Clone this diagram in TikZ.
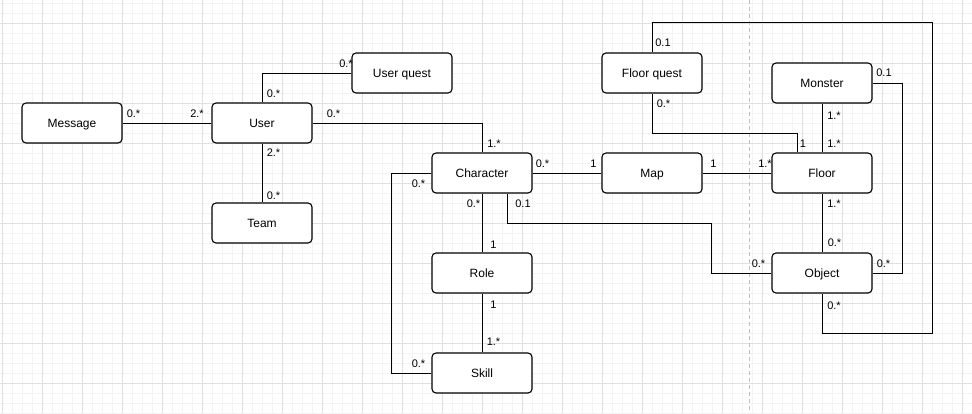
\documentclass[tikz,border=0pt]{standalone}
\usepackage{fontspec}
\setmainfont{Liberation Sans}
\usepackage{xcolor}
\definecolor{minorgrid}{HTML}{F3F3F3}
\definecolor{majorgrid}{HTML}{E0E0E0}
\definecolor{pagebreak}{HTML}{C0C0C0}

\begin{document}
\begin{tikzpicture}
	[   x=1pt, y=-1pt,
	    cbox/.style={draw=black,fill=white,line width=1.1pt,rounded corners=4pt,minimum width=100pt,minimum height=40pt,inner sep=0pt,font=\fontsize{12}{14}\selectfont,text height=8.6pt,text depth=0pt},
	    mult/.style={inner sep=0pt,font=\fontsize{11}{13}\selectfont},
	]
	\tikzset{assoc/.style={draw,line width=1pt}}
	\useasboundingbox (0,0) rectangle (972,413);
	\fill[white] (0,0) rectangle (972,413);
	
	% grid
	\foreach \gx in {2.5,12.5,...,972}
		\draw[minorgrid,line width=0.8pt] (\gx,0) -- (\gx,413);
	\foreach \gy in {3,13,...,413}
		\draw[minorgrid,line width=0.8pt] (0,\gy) -- (972,\gy);
	\foreach \gx in {2.5,42.5,...,972}
		\draw[majorgrid,line width=0.9pt] (\gx,0) -- (\gx,413);
	\foreach \gy in {23,63,...,413}
		\draw[majorgrid,line width=0.9pt] (0,\gy) -- (972,\gy);
	\draw[pagebreak,line width=0.8pt,dash pattern=on 4pt off 3pt] (749.5,0) -- (749.5,413);
	
	\foreach \n/\x/\y/\t in {msg/72/123/Message, user/262/123/User, uquest/402/73/User quest, team/262/223/Team, char/482/173/Character, role/482/273/Role, skill/482/373/Skill, map/652/173/Map, fquest/652/73/Floor quest, monster/822/83/Monster, floor/822/173/Floor, object/822/273/Object}
	{
		\node[cbox] (\n) at (\x,\y) {\t};
	}
	
	\path[assoc] (msg) -- (user);
	\path[assoc] (user.north) |- (uquest.west);
	\path[assoc] (user.east) -| (char.north);
	\path[assoc] (user) -- (team);
	\path[assoc] (char.west) -- ++(-40,0) |- (skill.west);
	\path[assoc] (char) -- (role);
	\path[assoc] (role) -- (skill);
	\path[assoc] (char) -- (map);
	\path[assoc] (map) -- (floor);
	\path[assoc] ([xshift=25pt]char.south) -- ++(0,30) -| ([xshift=-60pt]object.west) -- (object.west);
	\path[assoc] (fquest.south) -- ++(0,40) -| ([xshift=-25pt]floor.north);
	\path[assoc] (monster) -- (floor);
	\path[assoc] (floor) -- (object);
	\path[assoc] (monster.east) -- ++(30,0) |- (object.east);
	\coordinate (loopcorner) at (932,333);
	\path[assoc] (fquest.north) -- ++(0,-30) -| (loopcorner) -| (object.south);
	
	% multiplicities
	\foreach \x/\y/\t [count=\i] in {133.5/114/0.*, 197/114/2.*, 273.5/94/0.*, 346/64/0.*, 333.5/114/0.*, 494/144/1.*, 273.5/153/2.*, 273.5/196/0.*, 418.5/184/0.*, 418.5/364/0.*, 473.5/204/0.*, 493.5/245/1, 493.5/305/1, 493.5/342/1.*, 542.5/164/0.*, 593.5/164/1, 713.5/164/1, 765/164/1.*, 523/204/0.1, 758.5/264/0.*, 663.5/104/0.*, 803/144/1, 834/116/1.*, 834/144/1.*, 834/204/1.*, 834.5/243/0.*, 884/73/0.1, 883.5/264/0.*, 663/43/0.1, 834/306/0.*}
	{
		\node[mult] (l-\i) at (\x,\y) {\t};
	}
\end{tikzpicture}
\end{document}
